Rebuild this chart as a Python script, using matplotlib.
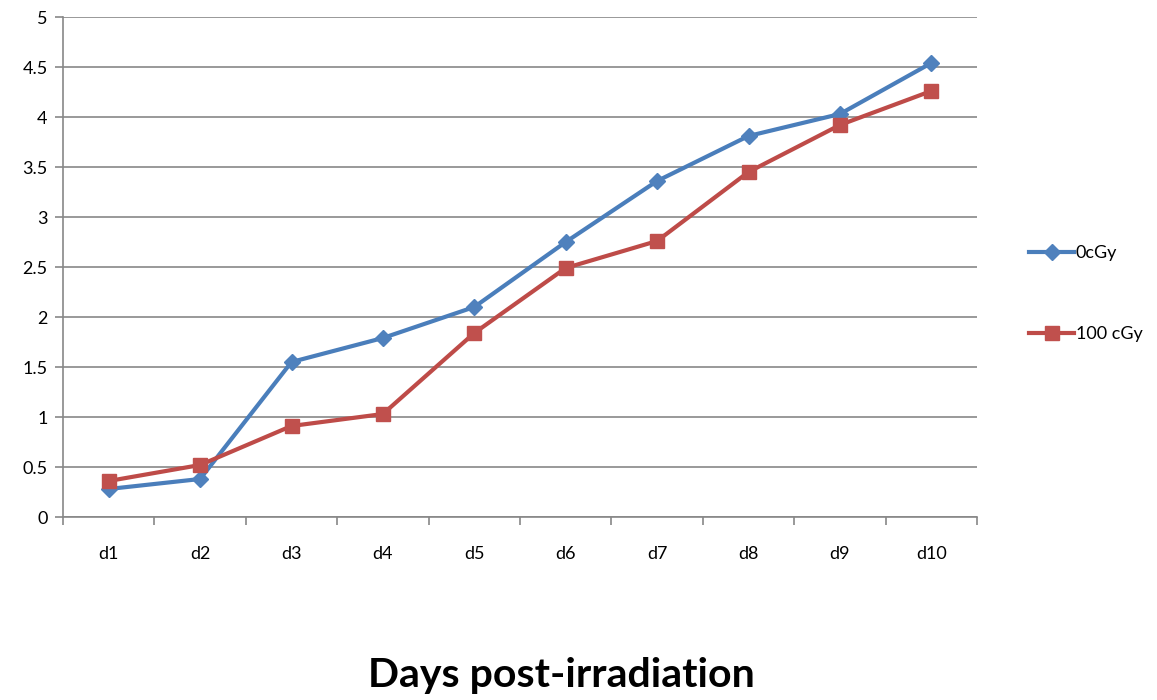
import matplotlib
matplotlib.use("Agg")
import matplotlib.pyplot as plt
import numpy as np

plt.rcParams['font.family'] = ['Lato', 'DejaVu Sans']

days = ["d1", "d2", "d3", "d4", "d5", "d6", "d7", "d8", "d9", "d10"]
series_0cgy = [0.28, 0.38, 1.55, 1.79, 2.10, 2.75, 3.36, 3.81, 4.03, 4.54]
series_100cgy = [0.36, 0.52, 0.91, 1.03, 1.84, 2.49, 2.76, 3.45, 3.92, 4.26]
y_ticks = [0, 0.5, 1, 1.5, 2, 2.5, 3, 3.5, 4, 4.5, 5]
y_tick_labels = ["0", "0.5", "1", "1.5", "2", "2.5", "3", "3.5", "4", "4.5", "5"]

fig = plt.figure(figsize=(11.57, 7.0), dpi=100)
ax = fig.add_axes([63/1157, 1-517/700, (977-63)/1157, 500/700])

x = np.arange(len(days))
ax.plot(x, series_0cgy, color='#4A7EBB', lw=3.0, marker='D', ms=8.5,
        mfc='#4F81BD', mec='#4F81BD', label='0cGy', zorder=3)
ax.plot(x, series_100cgy, color='#BE4B48', lw=3.0, marker='s', ms=10.5,
        mfc='#C0504D', mec='#C0504D', label='100 cGy', zorder=3)

ax.set_xlim(-0.5, len(days) - 0.5)
ax.set_ylim(0, 5)
ax.set_yticks(y_ticks)
ax.set_yticklabels(y_tick_labels, fontsize=13)
ax.set_xticks(x)
ax.set_xticklabels(days, fontsize=13)
ax.set_xticks(np.arange(-0.5, len(days)), minor=True)
ax.tick_params(axis='x', which='major', length=0, pad=21)
ax.tick_params(axis='x', which='minor', length=6, color='#878787', width=1.2, direction='out')
ax.tick_params(axis='y', length=6, color='#878787', width=1.2, pad=5)

ax.yaxis.grid(True, color='#878787', lw=1.2)
ax.set_axisbelow(True)
for s in ['top', 'right']:
    ax.spines[s].set_visible(False)
for s in ['left', 'bottom']:
    ax.spines[s].set_color('#878787')
    ax.spines[s].set_linewidth(1.2)

leg = ax.legend(loc='center left', bbox_to_anchor=(1029/1157, 1-294/700),
                bbox_transform=fig.transFigure, frameon=False, fontsize=13,
                handlelength=2.5, handletextpad=0.1, labelspacing=3.6,
                borderpad=0, borderaxespad=0)

fig.text(561/1157, 1-675/700, "Days post-irradiation", ha='center', va='center',
         fontsize=29.5, fontweight='bold')

fig.savefig("out.png", dpi=100)
